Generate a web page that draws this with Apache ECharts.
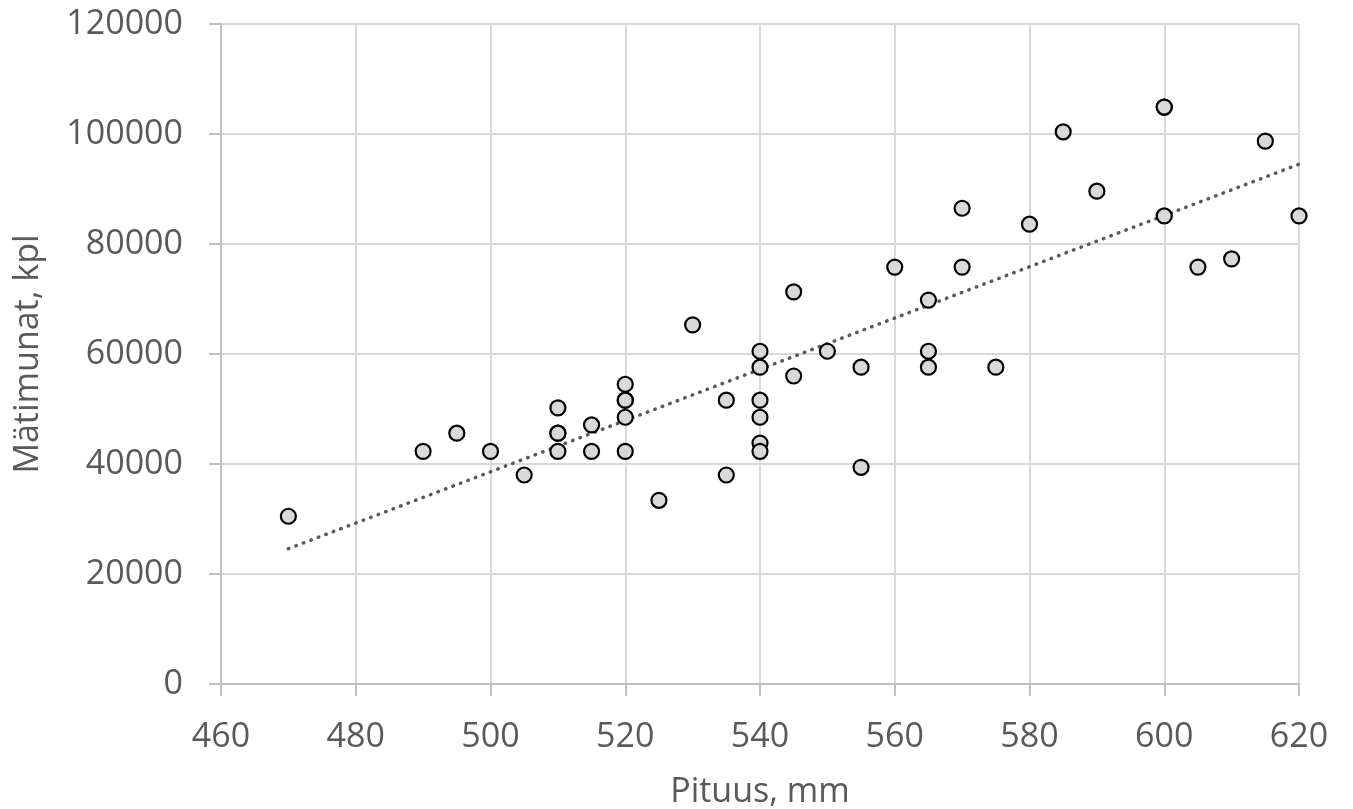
<!DOCTYPE html>
<html><head><meta charset="utf-8">
<script src="https://cdn.jsdelivr.net/npm/echarts@6/dist/echarts.min.js"></script>
<style>html,body{margin:0;padding:0;background:#fff}#c{width:1353px;height:809px}</style>
</head><body><div id="c"></div>
<script>
// Pituus, mm
const lengths = [470,490,495,500,505,510,510,510,510,515,515,520,520,520,520,520,525,530,535,535,540,540,540,540,540,540,545,545,550,555,555,560,565,565,565,570,570,575,580,585,590,600,600,600,605,610,615,620];
// Mätimunat, kpl
const eggs = [30500,42300,45600,42300,38000,50200,45600,45600,42300,47100,42300,54500,51600,51600,48500,42300,33400,65300,51600,38000,60500,57600,51600,48500,43800,42300,71300,56000,60500,57600,39400,75800,69800,60500,57600,86500,75800,57600,83600,100400,89600,104900,104900,85100,75800,77300,98700,85100];
const xTicks = {min:460, max:620, interval:20};
const yTicks = {min:0, max:120000, interval:20000};

const points = lengths.map((x,i)=>[x, eggs[i]]);
// linear trend (least squares)
const n = lengths.length;
const mx = lengths.reduce((a,b)=>a+b,0)/n, my = eggs.reduce((a,b)=>a+b,0)/n;
let sxy=0, sxx=0;
for(let i=0;i<n;i++){sxy+=(lengths[i]-mx)*(eggs[i]-my);sxx+=(lengths[i]-mx)**2;}
const slope=sxy/sxx, icpt=my-slope*mx;
const xMin=Math.min(...lengths), xMax=Math.max(...lengths);
const trend=[[xMin,icpt+slope*xMin],[xMax,icpt+slope*xMax]];

const font = 'Open Sans';
const fs = 34;
const chart = echarts.init(document.getElementById('c'));
chart.setOption({
  animation:false,
  grid:{left:221,right:54,top:24,bottom:125,containLabel:false,outerBoundsMode:'none'},
  xAxis:{type:'value',min:xTicks.min,max:xTicks.max,interval:xTicks.interval,
    name:'Pituus, mm',nameLocation:'middle',nameGap:91,
    nameTextStyle:{fontFamily:font,fontSize:fs,color:'#595959'},
    axisLine:{show:true,onZero:false,lineStyle:{color:'#bfbfbf',width:2}},
    axisTick:{show:true,length:12,lineStyle:{color:'#bfbfbf',width:2}},
    axisLabel:{fontFamily:font,fontSize:fs,color:'#595959',margin:36},
    splitLine:{show:true,lineStyle:{color:'#d9d9d9',width:2}}},
  yAxis:{type:'value',min:yTicks.min,max:yTicks.max,interval:yTicks.interval,
    name:'Mätimunat, kpl',nameLocation:'middle',nameGap:176,
    nameTextStyle:{fontFamily:font,fontSize:fs,color:'#595959'},
    axisLine:{show:true,lineStyle:{color:'#bfbfbf',width:2}},
    axisTick:{show:true,length:12,lineStyle:{color:'#bfbfbf',width:2}},
    axisLabel:{fontFamily:font,fontSize:fs,color:'#595959',margin:38,formatter:v=>String(v)},
    splitLine:{show:true,lineStyle:{color:'#d9d9d9',width:2}}},
  series:[
    {type:'line',data:trend,symbol:'none',silent:true,z:3,
     lineStyle:{color:'#595959',width:3.5,type:[0.5,7.5],cap:'round'}},
    {type:'scatter',data:points,symbol:'circle',symbolSize:15,z:4,
     itemStyle:{color:'#d9d9d9',borderColor:'#000',borderWidth:2.2,opacity:1}}
  ]
});
</script></body></html>
